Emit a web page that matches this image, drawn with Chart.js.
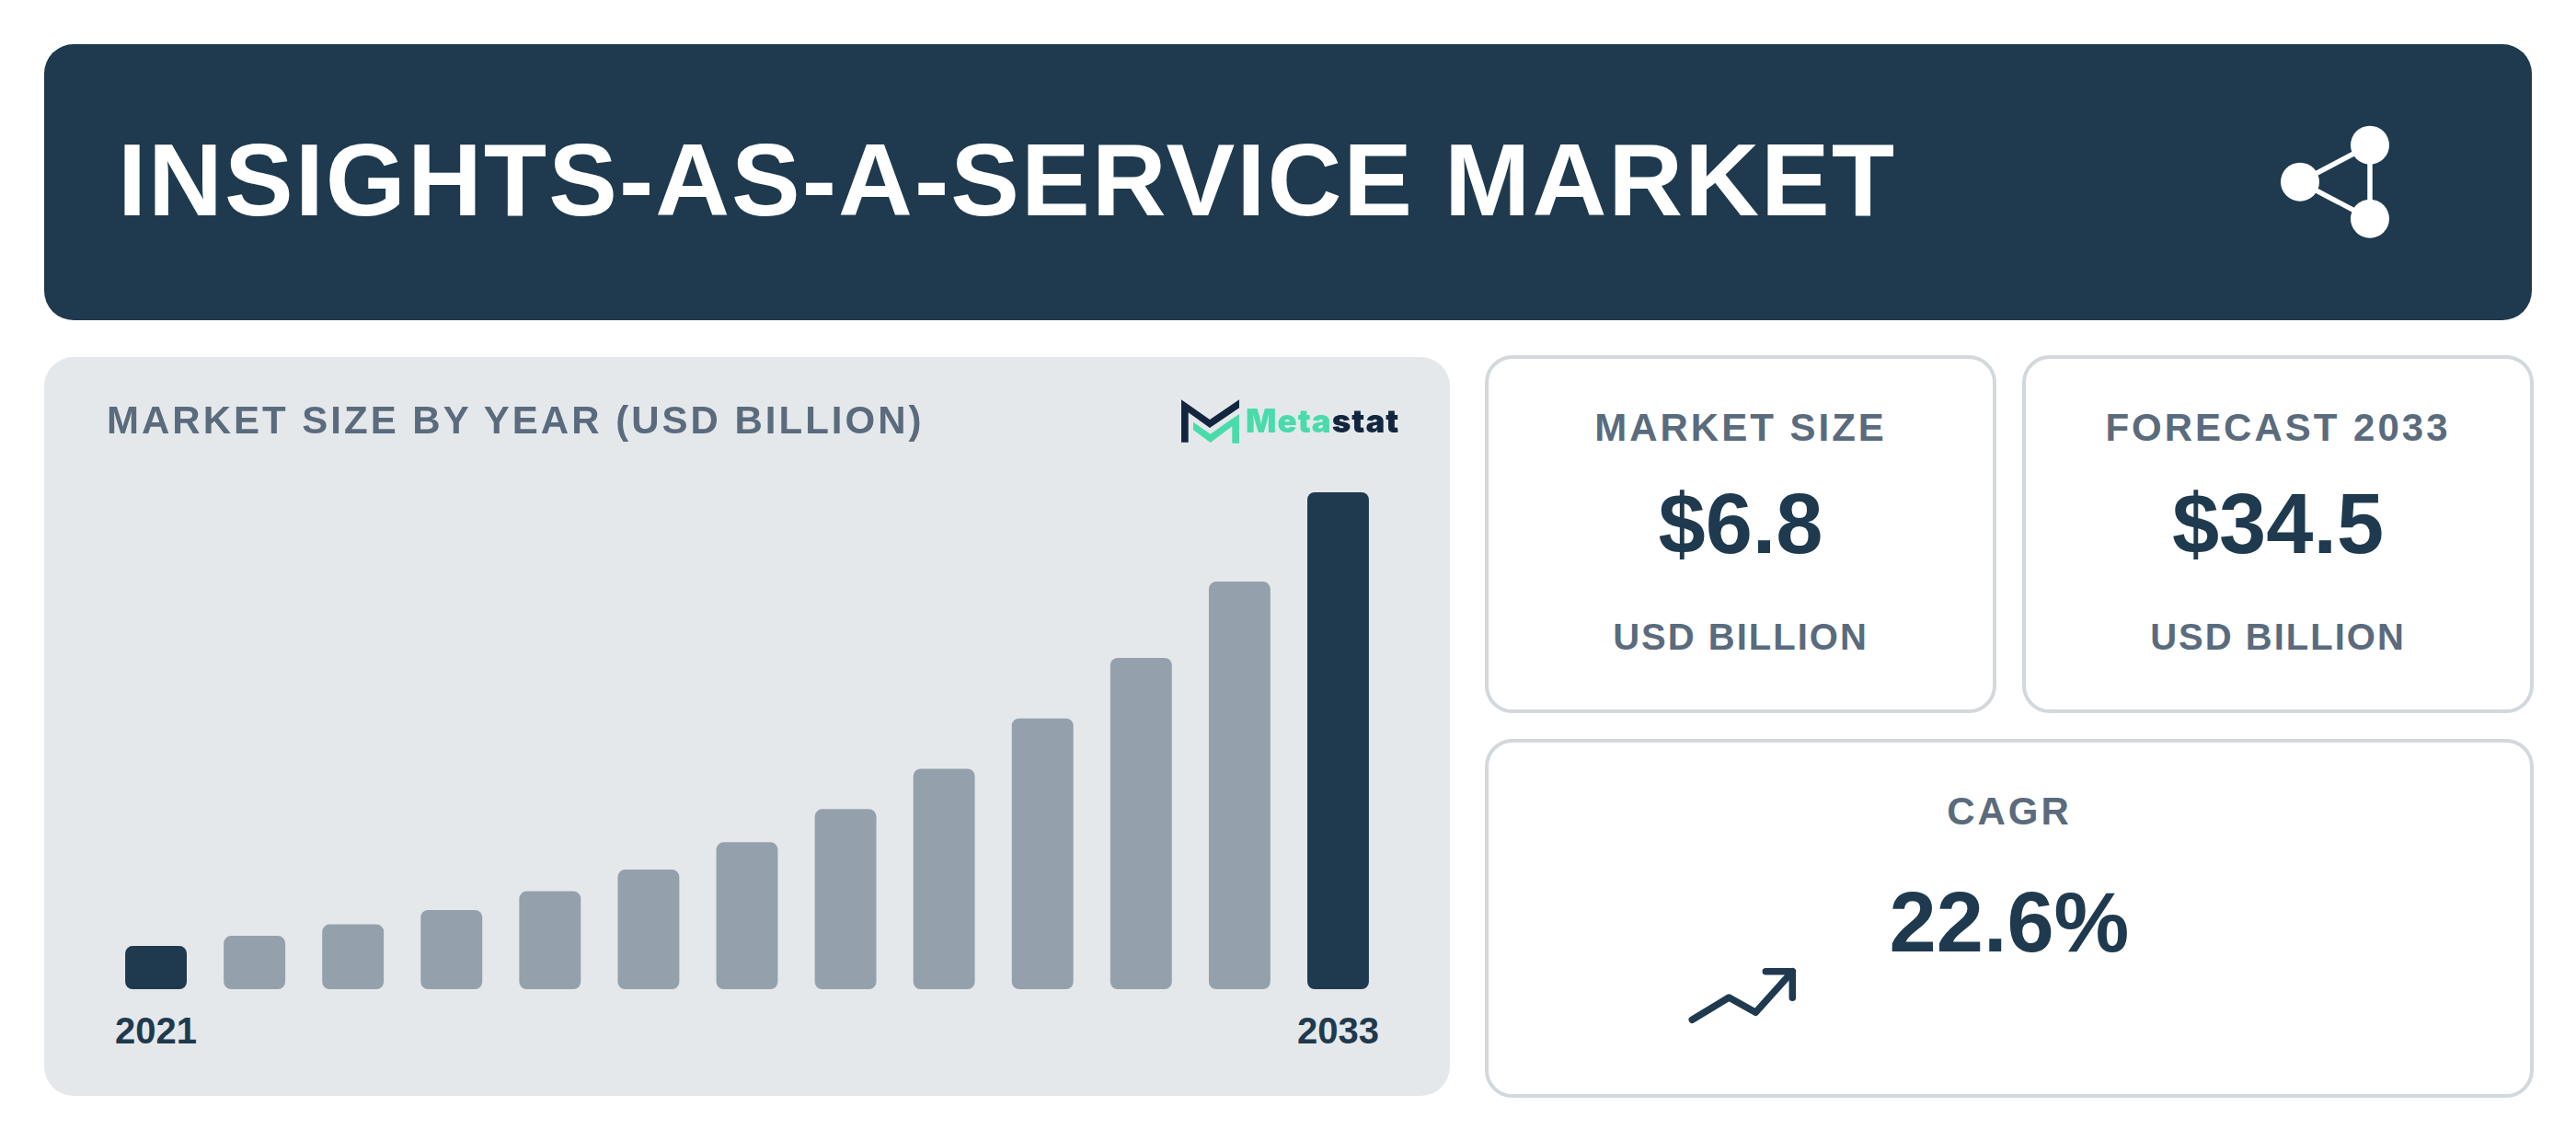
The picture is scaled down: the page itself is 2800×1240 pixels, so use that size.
<!DOCTYPE html>
<html><head><meta charset="utf-8">
<script src="https://cdn.jsdelivr.net/npm/chart.js@4/dist/chart.umd.js"></script>
<style>
html,body{margin:0;padding:0;background:#fff;width:2800px;height:1240px;overflow:hidden;font-family:"Liberation Sans",Arial,sans-serif;font-weight:700}
.abs{position:absolute;box-sizing:border-box}
.t{position:absolute;white-space:nowrap;line-height:1;font-weight:700}
.c{transform:translateX(-50%)}
.card{background:#fff;border:4px solid #d3d8dc;border-radius:30px}
.lab{color:#5a6b7d;font-size:42px;letter-spacing:3px}
.unit{color:#5a6b7d;font-size:40px;letter-spacing:2px}
.val{color:#1f3a4e;font-size:92px}
</style></head><body>
<div class="abs" style="left:48px;top:48px;width:2704px;height:299.5px;background:#1f3a4e;border-radius:32px"></div>
<div class="t" id="title" style="left:128px;top:140px;font-size:112px;color:#fff;letter-spacing:2px">INSIGHTS-AS-A-SERVICE MARKET</div>
<svg class="abs" style="left:2440px;top:110px" width="200" height="170" viewBox="2440 110 200 170">
<g stroke="#fff" stroke-width="5.5"><line x1="2500" y1="197.7" x2="2576" y2="157.7"/><line x1="2500" y1="197.7" x2="2576" y2="237.7"/><line x1="2576" y1="157.7" x2="2576" y2="237.7"/></g>
<g fill="#fff"><circle cx="2500" cy="197.7" r="21"/><circle cx="2576" cy="157.7" r="21"/><circle cx="2576" cy="237.7" r="21"/></g></svg>

<canvas id="c" class="abs" style="left:48px;top:388px;width:1528px;height:803px;border-radius:32px" width="1528" height="803"></canvas>
<div class="t" style="left:116px;top:436px;font-size:42px;letter-spacing:3px;color:#5a6b7d">MARKET SIZE BY YEAR (USD BILLION)</div>
<svg class="abs" style="left:1280px;top:430px" width="75" height="55" viewBox="1280 430 75 55">
<polygon fill="#12263f" points="1284,434.3 1315,456 1347,434.3 1347,443.3 1315,465 1291.7,448.3 1291.7,480.7 1284,480.7"/>
<polygon fill="#4adbab" points="1297,458.7 1315.7,471.7 1339.3,455 1347,450 1347,481.7 1339.3,481.7 1339.3,463.3 1315.7,481 1297,467.3"/></svg>
<div class="t" style="left:1354px;top:440px;font-size:35px;font-family:Inter,sans-serif;font-weight:900;letter-spacing:1px"><span style="color:#4adbab">Meta</span><span style="color:#12263f">stat</span></div>

<div class="abs card" style="left:1614px;top:386px;width:556px;height:389px"></div>
<div class="t lab c" style="left:1892px;top:444px">MARKET SIZE</div>
<div class="t val c" style="left:1892px;top:523px">$6.8</div>
<div class="t unit c" style="left:1892px;top:672px">USD BILLION</div>

<div class="abs card" style="left:2198px;top:386px;width:556px;height:389px"></div>
<div class="t lab c" style="left:2476px;top:444px">FORECAST 2033</div>
<div class="t val c" style="left:2476px;top:523px">$34.5</div>
<div class="t unit c" style="left:2476px;top:672px">USD BILLION</div>

<div class="abs card" style="left:1614px;top:803px;width:1140px;height:390px"></div>
<div class="t lab c" style="left:2184px;top:861px">CAGR</div>
<div class="t val c" style="left:2184px;top:956px">22.6%</div>
<svg class="abs" style="left:1820px;top:1040px" width="150" height="90" viewBox="1820 1040 150 90">
<g fill="none" stroke="#1f3a4e" stroke-width="7.5" stroke-linecap="round" stroke-linejoin="round">
<polyline points="1839.3,1108.3 1879.3,1084 1908.3,1100.3 1948.3,1055.7"/><polyline points="1919.3,1055.7 1948.3,1055.7 1948.3,1084.3"/></g></svg>

<script>
const years = ["2021","2022","2023","2024","2025","2026","2027","2028","2029","2030","2031","2032","2033"];
const marketSize = [3.0,3.7,4.5,5.5,6.8,8.3,10.2,12.5,15.3,18.8,23.0,28.3,34.5];
const tickLabels = ["2021","","","","","","","","","","","","2033"];
const barColors = ["#1f3a4e","#94a1ac","#94a1ac","#94a1ac","#94a1ac","#94a1ac","#94a1ac","#94a1ac","#94a1ac","#94a1ac","#94a1ac","#94a1ac","#1f3a4e"];
const canvas = document.getElementById('c');
canvas.getContext('2d',{alpha:false});
const panelFill = {id:'panelFill',beforeDraw(ch){const x=ch.ctx;x.save();x.fillStyle='#e5e8eb';x.fillRect(0,0,ch.width,ch.height);x.restore();}};
new Chart(canvas,{
  type:'bar',
  plugins:[panelFill],
  data:{labels:years,datasets:[{data:marketSize,backgroundColor:barColors,borderWidth:0,borderRadius:8,borderSkipped:false,barPercentage:0.625,categoryPercentage:1}]},
  options:{
    responsive:false,animation:false,devicePixelRatio:1,
    layout:{padding:{left:68,right:68,top:147,bottom:28}},
    plugins:{legend:{display:false},tooltip:{enabled:false}},
    scales:{
      x:{grid:{display:false},border:{display:false},ticks:{autoSkip:false,maxRotation:0,padding:16,color:'#1f3a4e',font:{family:'"Liberation Sans"',size:40,weight:'700'},callback:(v,i)=>tickLabels[i]}},
      y:{display:false,min:0,max:34.5}
    }
  }
});
</script>
</body></html>
